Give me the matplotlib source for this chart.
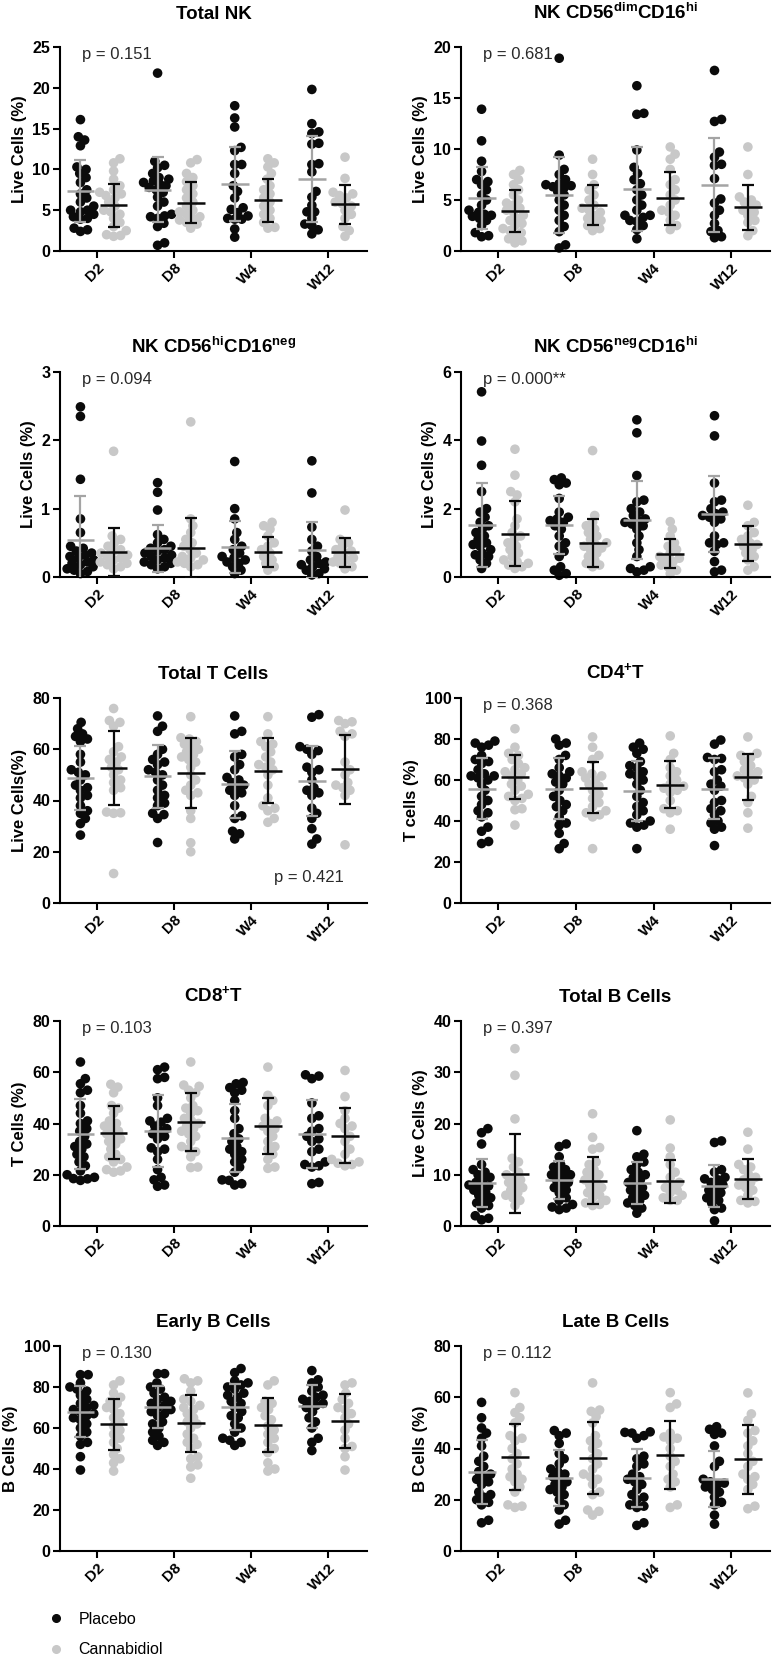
import numpy as np
import matplotlib
matplotlib.use("Agg")
import matplotlib.pyplot as plt
from matplotlib.lines import Line2D

plt.rcParams['font.family'] = ['Liberation Sans', 'DejaVu Sans']
plt.rcParams['mathtext.fontset'] = 'custom'
plt.rcParams['mathtext.rm'] = 'Liberation Sans'
plt.rcParams['mathtext.bf'] = 'Liberation Sans:bold'

timepoints = ["D2", "D8", "W4", "W12"]
groups = ["Placebo", "Cannabidiol"]

# ---------------- Total NK ----------------
nk_total_pla = [
    [16.1, 14.0, 13.6, 12.9, 10.3, 10.0, 9.5, 9.0, 8.4, 7.5, 7.0, 6.5, 6.0, 5.5, 5.0, 5.0, 4.8, 4.5, 4.2, 4.0, 3.9, 2.8, 2.6, 2.4],
    [21.8, 11.0, 10.5, 10.2, 9.5, 9.0, 8.8, 8.6, 8.4, 8.2, 8.0, 7.8, 7.5, 7.2, 6.6, 6.0, 5.5, 4.5, 4.3, 4.2, 4.0, 3.4, 3.0, 1.0, 0.7],
    [17.8, 16.3, 15.2, 12.7, 12.3, 10.6, 10.6, 9.5, 8.0, 7.3, 6.5, 5.3, 5.1, 4.7, 4.3, 4.0, 3.9, 3.9, 2.7, 1.7],
    [19.8, 15.6, 14.6, 14.4, 13.2, 13.1, 10.7, 10.6, 9.7, 7.3, 6.6, 5.6, 4.8, 4.8, 4.0, 3.3, 3.1, 2.6, 2.1],
]
nk_total_cbd = [
    [11.3, 10.8, 9.8, 8.8, 8.0, 7.5, 7.2, 7.0, 6.8, 6.5, 6.0, 5.5, 5.0, 4.8, 4.5, 4.0, 3.5, 3.0, 2.5, 2.0, 1.9, 1.8],
    [11.2, 10.8, 9.5, 9.0, 8.5, 8.0, 7.5, 7.0, 6.5, 6.0, 5.5, 5.0, 4.8, 4.5, 4.2, 4.0, 3.8, 3.5, 3.3, 2.8],
    [11.3, 10.8, 10.3, 9.5, 8.8, 8.0, 7.5, 7.0, 6.5, 6.0, 5.5, 5.0, 4.5, 4.0, 3.5, 2.9, 2.8],
    [11.5, 8.9, 7.2, 7.0, 6.8, 6.5, 6.0, 5.8, 5.5, 5.0, 4.5, 4.0, 3.0, 2.5, 1.8],
]
nk_total_pla_mean = [7.3, 7.5, 8.2, 8.8]
nk_total_pla_sd = [3.8, 4.0, 4.5, 5.3]
nk_total_cbd_mean = [5.6, 5.9, 6.2, 5.7]
nk_total_cbd_sd = [2.65, 2.5, 2.6, 2.35]

# ---------------- NK CD56dim CD16hi ----------------
nk_dim_pla = [
    [13.9, 10.8, 8.8, 7.8, 7.0, 6.8, 6.5, 6.0, 5.5, 5.0, 4.5, 4.0, 3.8, 3.6, 3.5, 3.4, 3.2, 3.0, 2.5, 1.8, 1.5, 1.4],
    [18.9, 9.4, 8.0, 7.5, 7.0, 6.6, 6.5, 6.4, 6.3, 6.2, 5.8, 5.5, 5.0, 4.5, 4.0, 3.5, 3.0, 2.4, 1.9, 0.6, 0.3],
    [16.2, 13.5, 13.4, 9.9, 8.2, 7.6, 7.0, 6.6, 6.0, 5.5, 5.0, 4.5, 4.0, 3.5, 3.5, 3.3, 3.0, 2.9, 2.5, 2.1, 1.2],
    [17.7, 12.9, 12.7, 9.7, 9.2, 8.5, 8.4, 7.1, 5.1, 4.7, 4.0, 3.5, 2.7, 2.0, 1.9, 1.4, 1.3],
]
nk_dim_cbd = [
    [7.9, 7.5, 7.0, 6.5, 6.0, 5.5, 5.0, 4.7, 4.5, 4.2, 4.0, 3.8, 3.5, 3.2, 3.0, 2.7, 2.5, 2.2, 2.0, 1.8, 1.5, 1.2, 1.0, 0.8],
    [9.0, 7.5, 6.5, 6.0, 5.5, 5.0, 4.5, 4.2, 4.0, 3.8, 3.5, 3.2, 3.0, 2.8, 2.5, 2.2, 2.0],
    [10.2, 9.5, 9.0, 8.0, 7.0, 6.5, 6.0, 5.5, 5.0, 4.5, 4.0, 3.8, 3.5, 3.0, 2.5, 2.1],
    [10.2, 7.5, 5.3, 5.0, 4.8, 4.5, 4.3, 4.0, 3.8, 3.5, 3.0, 2.8, 2.0, 1.5],
]
nk_dim_pla_mean = [5.2, 5.5, 6.1, 6.5]
nk_dim_pla_sd = [3.0, 3.7, 4.1, 4.6]
nk_dim_cbd_mean = [3.95, 4.5, 5.15, 4.3]
nk_dim_cbd_sd = [2.05, 1.95, 2.6, 2.2]

# ---------------- NK CD56hi CD16neg ----------------
nk_hi_pla = [
    [2.49, 2.35, 1.43, 0.85, 0.65, 0.45, 0.42, 0.38, 0.35, 0.32, 0.30, 0.28, 0.25, 0.22, 0.20, 0.18, 0.15, 0.12, 0.10, 0.08, 0.05],
    [1.38, 1.24, 0.98, 0.62, 0.55, 0.50, 0.45, 0.42, 0.40, 0.38, 0.35, 0.32, 0.30, 0.28, 0.25, 0.22, 0.20, 0.18, 0.15, 0.12],
    [1.69, 1.0, 0.85, 0.65, 0.55, 0.45, 0.40, 0.35, 0.30, 0.28, 0.25, 0.22, 0.20, 0.15, 0.10, 0.05],
    [1.70, 1.23, 0.73, 0.55, 0.45, 0.38, 0.30, 0.25, 0.22, 0.20, 0.18, 0.15, 0.12, 0.10, 0.05, 0.03],
]
nk_hi_cbd = [
    [1.84, 0.60, 0.55, 0.50, 0.45, 0.40, 0.38, 0.35, 0.32, 0.30, 0.28, 0.25, 0.22, 0.20, 0.18, 0.15, 0.12],
    [2.27, 0.85, 0.75, 0.65, 0.55, 0.50, 0.45, 0.40, 0.35, 0.30, 0.28, 0.25, 0.22, 0.20, 0.18, 0.15],
    [0.80, 0.75, 0.70, 0.60, 0.50, 0.45, 0.40, 0.35, 0.30, 0.25, 0.20, 0.15, 0.10],
    [0.98, 0.55, 0.50, 0.45, 0.40, 0.38, 0.35, 0.30, 0.28, 0.25, 0.22, 0.20, 0.15, 0.12],
]
nk_hi_pla_mean = [0.54, 0.42, 0.44, 0.40]
nk_hi_pla_sd = [0.65, 0.34, 0.38, 0.41]
nk_hi_cbd_mean = [0.37, 0.42, 0.37, 0.36]
nk_hi_cbd_sd = [0.35, 0.44, 0.22, 0.21]

# ---------------- NK CD56neg CD16hi ----------------
nk_neg_pla = [
    [5.42, 3.98, 3.27, 2.5, 2.0, 1.9, 1.75, 1.6, 1.5, 1.4, 1.3, 1.2, 1.1, 1.0, 0.95, 0.9, 0.8, 0.7, 0.65, 0.6, 0.5, 0.4, 0.25],
    [2.9, 2.85, 2.75, 2.7, 2.3, 1.9, 1.75, 1.7, 1.65, 1.6, 1.5, 1.4, 1.2, 1.0, 0.9, 0.75, 0.6, 0.3, 0.2, 0.1, 0.05],
    [4.6, 4.22, 2.97, 2.25, 2.2, 2.0, 1.9, 1.8, 1.7, 1.65, 1.6, 1.55, 1.5, 1.4, 1.2, 1.0, 0.8, 0.6, 0.3, 0.25, 0.2, 0.15],
    [4.72, 4.13, 2.75, 2.25, 2.2, 2.0, 1.9, 1.85, 1.8, 1.75, 1.7, 1.6, 1.2, 1.0, 1.0, 0.95, 0.75, 0.45, 0.2, 0.15],
]
nk_neg_cbd = [
    [3.74, 2.98, 2.5, 2.4, 2.2, 1.7, 1.5, 1.3, 1.2, 1.1, 1.0, 0.9, 0.8, 0.7, 0.6, 0.5, 0.45, 0.4, 0.35, 0.3, 0.25],
    [3.7, 1.8, 1.6, 1.5, 1.4, 1.3, 1.2, 1.1, 1.0, 0.95, 0.9, 0.85, 0.8, 0.7, 0.6, 0.5, 0.4, 0.35, 0.3],
    [1.62, 1.4, 1.2, 1.0, 0.9, 0.8, 0.7, 0.6, 0.55, 0.5, 0.45, 0.35, 0.3, 0.2, 0.1],
    [2.1, 1.6, 1.5, 1.3, 1.2, 1.1, 1.0, 0.95, 0.9, 0.8, 0.7, 0.6, 0.5, 0.3, 0.2],
]
nk_neg_pla_mean = [1.52, 1.52, 1.67, 1.85]
nk_neg_pla_sd = [1.23, 0.85, 1.15, 1.12]
nk_neg_cbd_mean = [1.26, 1.0, 0.68, 0.98]
nk_neg_cbd_sd = [0.95, 0.71, 0.43, 0.5]

# ---------------- Total T cells ----------------
t_total_pla = [
    [70.5, 68, 66, 65, 64, 63, 58, 55, 52, 51, 50, 48, 46, 45, 44, 42, 41, 38, 36, 35, 33, 31, 26.5],
    [73, 69, 67, 60, 58, 56, 55, 54, 52, 51, 50, 48, 46, 44, 42, 41, 39, 38, 35, 34.5, 33, 23.6],
    [73, 67, 66, 58, 57, 54, 52, 49, 48, 47, 46, 45, 44, 43, 42, 38, 34, 33, 28, 27, 25],
    [73.5, 72.5, 61, 60, 59.5, 58, 53, 52, 51, 48, 45, 44, 43, 42, 37, 35, 33, 29, 25, 23],
]
t_total_cbd = [
    [75.9, 71.2, 70.5, 69, 61, 59, 57, 56, 55, 53, 52, 50, 48, 47, 45, 44, 35.5, 35.2, 35, 11.5],
    [72.7, 64.5, 64, 63, 62, 61, 60, 59, 58, 57, 56, 55, 53, 50, 48, 46, 44, 43, 42, 36, 33, 23.5, 20],
    [72.7, 66, 63, 62, 61, 59, 57, 55, 54, 53, 52, 50, 46, 41, 38, 37, 36, 33, 31.5],
    [71.2, 70.7, 70, 67, 66, 65, 55, 52, 50, 47, 46, 45, 44, 42, 22.7],
]
t_total_pla_mean = [48.8, 49.4, 46.4, 47.6]
t_total_pla_sd = [12.5, 12.2, 13.1, 13.6]
t_total_cbd_mean = [52.8, 50.6, 51.7, 52.2]
t_total_cbd_sd = [14.4, 13.7, 12.7, 13.4]

# ---------------- CD4+ T ----------------
cd4_pla = [
    [79, 78, 77, 76, 72, 70, 69, 68, 65, 63, 62, 62, 61, 60, 58, 55, 52, 50, 48, 45, 44, 42, 37, 35, 30, 29],
    [80, 78, 77, 72, 70, 66, 64, 63, 62, 61, 59, 58, 55, 52, 50, 48, 47, 45, 42, 39, 38, 34, 29, 26.5],
    [78, 76, 75, 73, 69, 67, 66, 64, 63, 62, 60, 58, 55, 52, 49, 47, 45, 43, 40, 39, 38, 37, 26.5],
    [79.5, 77.5, 71, 70.5, 70, 65, 64, 60, 58, 57, 55, 50, 49, 46, 45, 43, 40, 39, 37, 36, 28],
]
cd4_cbd = [
    [85, 76, 73, 72, 70, 68, 66, 65, 64, 63, 62, 60, 58, 57, 55, 53, 52, 51, 50, 46, 45.5, 38],
    [81, 76, 72, 70, 64, 63, 62, 61, 60, 58, 57, 55, 53, 51, 49, 47, 45, 44, 43, 42, 26.5],
    [81.5, 73, 70, 66, 64, 62, 60, 58, 57, 56, 55, 54, 50, 46, 45, 44, 36],
    [81, 73, 72, 71, 69, 67, 65, 64, 63, 62, 61, 60, 58, 52, 49, 44, 36.5],
]
cd4_pla_mean = [55.8, 55.7, 54.8, 55.7]
cd4_pla_sd = [14.8, 14.9, 14.7, 14.9]
cd4_cbd_mean = [61.6, 56.2, 57.8, 61.4]
cd4_cbd_sd = [10.8, 12.4, 11.5, 11.2]

# ---------------- CD8+ T ----------------
cd8_pla = [
    [64, 57.5, 55.5, 53, 52, 47, 44, 41, 40, 38, 37, 35, 33, 32, 31, 30, 28, 27, 25, 23.5, 21.5, 20, 19, 18.5, 18.4, 17.8],
    [62, 61, 58, 57.5, 50, 47, 42, 41, 40.5, 39, 38, 37, 36, 35, 34, 30.5, 30, 29, 26, 22, 19, 18, 16, 15.5],
    [56, 55.5, 54, 53, 52, 49, 45, 42, 38, 36, 34, 33, 31, 30, 29, 28, 26, 25, 23, 21, 18, 17.8, 16.5, 16],
    [59, 58.5, 57.5, 48, 43, 42, 38, 37, 35, 34, 33, 30, 29, 25, 24, 23.5, 23, 17, 16.5],
]
cd8_cbd = [
    [55.3, 54.2, 52, 47, 46, 44, 41, 40, 39, 38, 37, 36, 35, 34, 33, 32, 30, 28, 27, 26, 25, 23, 22, 21.5, 21],
    [64, 55, 54.5, 53, 52, 50, 47, 46, 45, 44, 42, 41, 40, 39, 38, 37, 36, 35, 33, 31, 30, 29, 27, 23, 22.8],
    [62, 51, 49, 47, 42, 41, 40, 39, 38, 37, 35, 33, 31, 30, 28, 26, 23, 22.5],
    [60.7, 50.5, 45, 42, 40, 39, 38, 35, 33, 30, 28, 26, 25, 24.5, 24, 23.5],
]
cd8_pla_mean = [35.8, 37.0, 34.4, 35.8]
cd8_pla_sd = [13.6, 14.0, 13.3, 13.3]
cd8_cbd_mean = [36.4, 40.6, 39.0, 35.3]
cd8_cbd_sd = [10.3, 11.2, 10.9, 10.6]

# ---------------- Total B cells ----------------
b_total_pla = [
    [19, 18.2, 16, 12, 11, 10.5, 10, 9.5, 9, 8.5, 8, 7.8, 7.5, 7, 6.5, 6, 5.5, 5, 4.5, 4, 3.5, 2, 1.5, 1.2],
    [16, 15.5, 13.5, 12, 11.5, 11, 10.5, 10, 10, 9.5, 9, 8.5, 8, 7.5, 7, 6.5, 5.5, 5, 4.2, 3.7, 3.5, 3.2],
    [18.6, 14, 13.5, 12.5, 12, 11, 10.5, 10, 9.5, 9, 8.5, 8, 7.5, 7, 6.5, 6, 5.5, 5, 4.5, 4, 3.5, 2.5],
    [16.6, 16.3, 11, 10.5, 9.5, 9.2, 9, 8.5, 8, 7.5, 7, 6.5, 6, 5.5, 5, 4.5, 3.5, 3.2, 1.0],
]
b_total_cbd = [
    [34.6, 29.4, 20.9, 13.2, 12.5, 11.5, 10.5, 10, 9.5, 9, 8.5, 8, 7.5, 7, 6.5, 6, 5.5, 5, 4],
    [21.9, 17.3, 15.3, 15, 12.5, 12, 11, 10.5, 10, 9.5, 9, 8.5, 8, 7.5, 7, 6.5, 6, 5.5, 5, 4.5, 4.2, 4.0],
    [20.7, 15.2, 13.5, 12, 10.5, 9.5, 8.5, 8, 7.5, 7, 6.5, 6, 5.5, 5, 5.0],
    [18.3, 15, 12, 11.5, 11, 10, 9.5, 9, 8.5, 8, 7.5, 7, 6, 5, 4.8, 4.5],
]
b_total_pla_mean = [8.4, 9.0, 8.3, 7.8]
b_total_pla_sd = [4.6, 3.7, 4.1, 4.1]
b_total_cbd_mean = [10.2, 8.8, 8.7, 9.2]
b_total_cbd_sd = [7.7, 4.6, 4.25, 3.85]

# ---------------- Early B cells ----------------
b_early_pla = [
    [86, 86, 82, 80, 79, 78, 76, 74, 72, 71, 70, 69, 68, 67, 66, 65, 64, 62, 60, 58, 56, 53, 52, 46, 39.5],
    [86.5, 86.5, 82, 80, 79, 77, 75, 74, 73, 72, 71, 70, 69, 68, 67, 66, 63, 62, 60, 58, 56, 54, 53, 51.5],
    [89, 87, 83, 82, 81, 80, 79, 77, 76, 75, 73, 72, 70, 68, 66, 65, 62, 60, 58, 55, 54, 53, 51.5],
    [88, 83.5, 82, 80, 78, 76, 75, 74, 73, 72, 71, 70, 68, 65, 63, 60, 55, 53, 49],
]
b_early_cbd = [
    [83, 81, 77, 75, 73, 72, 70, 69, 67, 65, 63, 61, 59, 57, 55, 53, 50, 47, 45, 43, 39],
    [84, 83, 82, 78, 74, 73, 71, 70, 69, 67, 65, 63, 62, 60, 57, 55, 53, 52, 50, 46, 45, 42, 41, 35.5],
    [83, 81, 73, 72, 70, 69, 66, 64, 61, 59, 57, 55, 53, 50, 48, 43, 40, 39],
    [82, 81, 77, 74, 72, 70, 69, 67, 65, 62, 59, 55, 51, 50, 46, 39.5],
]
b_early_pla_mean = [68.0, 70.3, 70.3, 70.5]
b_early_pla_sd = [12.5, 10.4, 11.1, 10.4]
b_early_cbd_mean = [61.8, 62.2, 61.4, 63.3]
b_early_cbd_sd = [12.5, 13.9, 13.2, 13.1]

# ---------------- Late B cells ----------------
b_late_pla = [
    [58, 52, 48, 46, 44, 41, 37, 35, 33, 31, 30, 29, 28, 27, 26, 23, 22, 21, 20, 19, 18, 12, 11],
    [47, 46, 45, 42, 38, 36, 34, 32, 31, 30, 29, 28, 27, 26, 25, 24, 23, 22, 20, 18, 16, 12, 10.5],
    [46.5, 46.3, 46, 45, 44, 37, 36, 34, 33, 30, 29, 28, 27, 26, 24, 22, 21, 20, 18, 17.5, 17, 11, 10],
    [48.5, 47.5, 46, 45.5, 41, 35, 33, 28, 27, 26.5, 26, 25, 24, 23, 21, 19, 18, 14, 10.5],
]
b_late_cbd = [
    [61.8, 56, 54, 52, 50, 45, 44, 43, 40, 38, 36, 34, 32, 30, 29, 28, 27, 25, 23, 18, 17.5, 17],
    [65.6, 55, 54.5, 52.5, 50, 45, 43, 42, 40, 38, 36, 34, 32, 30, 29, 28, 26, 23, 22, 16, 15.5, 14],
    [61.8, 57.4, 56, 46, 44.5, 44, 43, 40, 37, 35, 33, 30, 28, 27, 25, 18, 17],
    [61.7, 53.5, 51, 47, 46, 43, 41, 38, 35, 33, 30, 29, 28, 26, 24, 17.5, 16.5],
]
b_late_pla_mean = [30.9, 28.5, 28.5, 28.2]
b_late_pla_sd = [12.4, 10.8, 11.4, 10.9]
b_late_cbd_mean = [36.7, 36.3, 37.4, 35.8]
b_late_cbd_sd = [12.7, 13.9, 13.3, 13.5]

titles = ["Total NK", r"NK CD56$^{\mathbf{dim}}$CD16$^{\mathbf{hi}}$",
          r"NK CD56$^{\mathbf{hi}}$CD16$^{\mathbf{neg}}$", r"NK CD56$^{\mathbf{neg}}$CD16$^{\mathbf{hi}}$",
          "Total T Cells", r"CD4$^{\mathbf{+}}$T", r"CD8$^{\mathbf{+}}$T", "Total B Cells",
          "Early B Cells", "Late B Cells"]
ylabels = ["Live Cells (%)", "Live Cells (%)", "Live Cells (%)", "Live Cells (%)",
           "Live Cells(%)", "T cells (%)", "T Cells (%)", "Live Cells (%)",
           "B Cells (%)", "B Cells (%)"]
ymax = [25, 20, 3, 6, 80, 100, 80, 40, 100, 80]
ystep = [5, 5, 1, 2, 20, 20, 20, 10, 20, 20]
pvalues = ["p = 0.151", "p = 0.681", "p = 0.094", "p = 0.000**", "p = 0.421",
           "p = 0.368", "p = 0.103", "p = 0.397", "p = 0.130", "p = 0.112"]

panels = [
    (nk_total_pla, nk_total_cbd, nk_total_pla_mean, nk_total_pla_sd, nk_total_cbd_mean, nk_total_cbd_sd),
    (nk_dim_pla, nk_dim_cbd, nk_dim_pla_mean, nk_dim_pla_sd, nk_dim_cbd_mean, nk_dim_cbd_sd),
    (nk_hi_pla, nk_hi_cbd, nk_hi_pla_mean, nk_hi_pla_sd, nk_hi_cbd_mean, nk_hi_cbd_sd),
    (nk_neg_pla, nk_neg_cbd, nk_neg_pla_mean, nk_neg_pla_sd, nk_neg_cbd_mean, nk_neg_cbd_sd),
    (t_total_pla, t_total_cbd, t_total_pla_mean, t_total_pla_sd, t_total_cbd_mean, t_total_cbd_sd),
    (cd4_pla, cd4_cbd, cd4_pla_mean, cd4_pla_sd, cd4_cbd_mean, cd4_cbd_sd),
    (cd8_pla, cd8_cbd, cd8_pla_mean, cd8_pla_sd, cd8_cbd_mean, cd8_cbd_sd),
    (b_total_pla, b_total_cbd, b_total_pla_mean, b_total_pla_sd, b_total_cbd_mean, b_total_cbd_sd),
    (b_early_pla, b_early_cbd, b_early_pla_mean, b_early_pla_sd, b_early_cbd_mean, b_early_cbd_sd),
    (b_late_pla, b_late_cbd, b_late_pla_mean, b_late_pla_sd, b_late_cbd_mean, b_late_cbd_sd),
]

W, H = 772, 1663
fig = plt.figure(figsize=(W / 100, H / 100), dpi=100)

col_x = [(60, 367), (461, 770)]
row_y = [(47, 251), (372, 577), (698, 903), (1021, 1226), (1346, 1551)]

BLACK = "#0b0b0b"
GRAY_PT = "#c8c8c8"
GRAY_BAR = "#a4a4a4"
OFF = 0.215
MEAN_HW = 0.18


def swarm_x(ax, xc, vals, dmin=7.0, maxoff=14.0, step=0.7):
    trans = ax.transData
    pts = trans.transform(np.column_stack([np.full(len(vals), xc), vals]))
    order = np.argsort(pts[:, 1])
    cands = np.arange(-maxoff, maxoff + 1e-9, step)
    cands = cands[np.argsort(np.abs(cands), kind="stable")]
    placed = []
    out = pts.copy()
    for i in order:
        px, py = pts[i]
        best = px
        best_d = -1.0
        for off in cands:
            cx = px + off
            if placed:
                arr = np.array(placed)
                d = np.min(np.hypot(arr[:, 0] - cx, arr[:, 1] - py))
            else:
                d = 1e9
            if d >= dmin:
                best = cx
                break
            if d > best_d + 0.5:
                best_d = d
                best = cx
        placed.append((best, py))
        out[i, 0] = best
    return trans.inverted().transform(out)[:, 0]


for idx, (pla, cbd, pm, psd, cm, csd) in enumerate(panels):
    r, c = divmod(idx, 2)
    x0, x1 = col_x[c]
    yt, yb = row_y[r]
    ax = fig.add_axes([x0 / W, 1 - yb / H, (x1 - x0) / W, (yb - yt) / H])
    ax.set_xlim(0.52, 4.5)
    ax.set_ylim(0, ymax[idx])
    ax.set_yticks(np.arange(0, ymax[idx] + 1e-9, ystep[idx]))
    ax.set_yticklabels([f"{v:g}" for v in np.arange(0, ymax[idx] + 1e-9, ystep[idx])],
                       fontsize=11.5, fontweight="bold")
    ax.set_xticks(np.arange(1, 5))
    ax.set_xticklabels(timepoints, rotation=45, ha="right", rotation_mode="anchor",
                       fontsize=11, fontweight="bold")
    for sp in ["top", "right"]:
        ax.spines[sp].set_visible(False)
    for sp in ["left", "bottom"]:
        ax.spines[sp].set_linewidth(1.5)
    ax.tick_params(axis="both", width=1.5, length=5, pad=2)
    ax.set_ylabel(ylabels[idx], fontsize=12, fontweight="bold", labelpad=4)
    pad = 20 if r == 0 else 14
    ax.set_title(titles[idx], fontsize=13.5, fontweight="bold", pad=pad)

    for t in range(4):
        xp = (t + 1) - OFF
        xcb = (t + 1) + OFF
        xs = swarm_x(ax, xp, pla[t])
        ax.scatter(xs, pla[t], s=48, color=BLACK, edgecolors="none", zorder=2, clip_on=False)
        xs = swarm_x(ax, xcb, cbd[t])
        ax.scatter(xs, cbd[t], s=48, color=GRAY_PT, edgecolors="none", zorder=2, clip_on=False)
        ax.errorbar([xp], [pm[t]], yerr=[psd[t]], fmt="none", ecolor=GRAY_BAR,
                    elinewidth=1.6, capsize=4, capthick=1.6, zorder=3)
        ax.hlines(pm[t], xp - MEAN_HW, xp + MEAN_HW, colors=GRAY_BAR, lw=1.8, zorder=3)
        ax.errorbar([xcb], [cm[t]], yerr=[csd[t]], fmt="none", ecolor=BLACK,
                    elinewidth=1.6, capsize=4, capthick=1.6, zorder=3)
        ax.hlines(cm[t], xcb - MEAN_HW, xcb + MEAN_HW, colors=BLACK, lw=1.8, zorder=3)

    if idx == 4:
        ax.text(0.81, 0.125, pvalues[idx], transform=ax.transAxes, fontsize=12,
                color="#2a2a2a", ha="center", va="center")
    else:
        ax.text(0.072, 0.962, pvalues[idx], transform=ax.transAxes, fontsize=12,
                color="#2a2a2a", ha="left", va="center")

handles = [Line2D([], [], marker="o", ls="", color=BLACK, markersize=5.5),
           Line2D([], [], marker="o", ls="", color=GRAY_PT, markersize=5.5)]
fig.legend(handles, groups, loc="upper left", bbox_to_anchor=(48 / W, 1 - 1612 / H),
           frameon=False, fontsize=11.5, handletextpad=0.9, labelspacing=0.95,
           borderaxespad=0, borderpad=0, handlelength=1.0)

fig.savefig("out.png", dpi=100, facecolor="white")
